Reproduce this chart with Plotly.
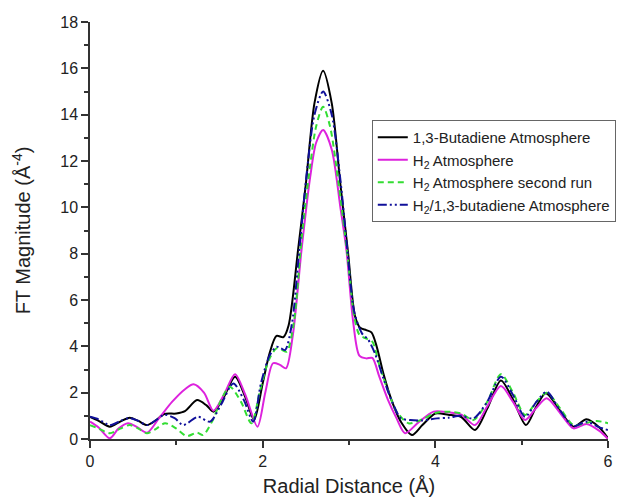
import plotly.graph_objects as go

# ---- data ----
black_x = [0, 0.1, 0.23, 0.35, 0.46, 0.56, 0.66, 0.76, 0.86, 1.0, 1.1, 1.24, 1.35, 1.43, 1.55, 1.68, 1.8, 1.9,
           2.0, 2.08, 2.16, 2.24, 2.3, 2.41, 2.5, 2.6, 2.7, 2.8, 2.9, 2.99, 3.07, 3.13, 3.2, 3.26, 3.32, 3.4,
           3.5, 3.6, 3.73, 3.85, 4.0, 4.15, 4.3, 4.46, 4.6, 4.76, 4.9, 5.05, 5.17, 5.28, 5.45, 5.6, 5.75, 5.9, 6.0]
black_y = [0.95, 0.78, 0.53, 0.75, 0.92, 0.78, 0.6, 0.8, 1.08, 1.1, 1.2, 1.68, 1.45, 1.18, 1.8, 2.69, 1.8, 0.82,
           2.4, 3.7, 4.45, 4.4, 4.9, 8.16, 11.0, 14.5, 15.9, 14.5, 11.0, 8.0, 5.3, 4.8, 4.7, 4.6, 4.0, 2.8,
           1.6, 0.75, 0.17, 0.6, 1.1, 1.05, 0.95, 0.39, 1.3, 2.52, 1.7, 0.6, 1.4, 1.97, 1.2, 0.53, 0.85, 0.5, 0.03]

mag_x = [0, 0.1, 0.23, 0.33, 0.44, 0.55, 0.66, 0.8, 0.95, 1.1, 1.2, 1.32, 1.43, 1.55, 1.68, 1.8, 1.94, 2.03,
         2.12, 2.2, 2.27, 2.35, 2.45, 2.55, 2.62, 2.7, 2.8, 2.9, 2.97, 3.05, 3.12, 3.2, 3.27, 3.35, 3.45, 3.55,
         3.65, 3.8, 3.98, 4.15, 4.3, 4.46, 4.6, 4.76, 4.9, 5.04, 5.16, 5.29, 5.45, 5.6, 5.75, 5.9, 6.0]
mag_y = [0.75, 0.5, 0.03, 0.45, 0.68, 0.5, 0.27, 0.9, 1.6, 2.15, 2.36, 2.0, 1.22, 1.9, 2.8, 1.9, 0.53, 2.0,
         3.27, 3.2, 3.05, 4.5, 8.16, 11.3, 12.8, 13.34, 12.5, 10.0, 8.16, 5.0, 3.6, 3.48, 3.5, 2.7, 1.7, 0.9,
         0.25, 0.7, 1.18, 1.15, 1.05, 0.6, 1.4, 2.29, 1.6, 0.82, 1.3, 1.76, 1.1, 0.46, 0.65, 0.35, 0.0]

grn_x = [0, 0.1, 0.23, 0.35, 0.46, 0.56, 0.66, 0.77, 0.87, 1.0, 1.12, 1.24, 1.31, 1.42, 1.52, 1.62, 1.75, 1.87,
         1.97, 2.07, 2.16, 2.22, 2.28, 2.36, 2.45, 2.55, 2.62, 2.7, 2.78, 2.88, 2.98, 3.06, 3.12, 3.19, 3.27,
         3.35, 3.45, 3.55, 3.69, 3.85, 4.0, 4.13, 4.3, 4.44, 4.6, 4.76, 4.9, 5.04, 5.17, 5.29, 5.45, 5.6, 5.75,
         5.87, 6.0]
grn_y = [0.6, 0.45, 0.25, 0.45, 0.6, 0.45, 0.25, 0.45, 0.68, 0.45, 0.13, 0.27, 0.17, 0.8, 1.7, 2.26, 1.6, 0.68,
         2.1, 3.4, 3.91, 3.85, 3.77, 5.0, 8.6, 11.8, 13.5, 14.34, 13.5, 11.0, 8.0, 5.3, 4.5, 4.35, 4.2,
         3.2, 2.1, 1.2, 0.68, 0.85, 1.12, 1.18, 1.1, 0.82, 1.6, 2.8, 2.0, 1.04, 1.6, 2.0, 1.3, 0.6, 0.7,
         0.78, 0.68]

blu_x = [0, 0.1, 0.23, 0.35, 0.46, 0.56, 0.66, 0.76, 0.86, 0.98, 1.08, 1.25, 1.39, 1.52, 1.66, 1.78, 1.89,
         1.98, 2.08, 2.16, 2.21, 2.26, 2.34, 2.42, 2.52, 2.6, 2.7, 2.8, 2.9, 2.98, 3.06, 3.15, 3.22, 3.3, 3.4,
         3.5, 3.6, 3.71, 3.85, 4.02, 4.15, 4.3, 4.44, 4.6, 4.76, 4.9, 5.04, 5.17, 5.29, 5.45, 5.6, 5.75, 5.9, 6.0]
blu_y = [0.96, 0.85, 0.6, 0.78, 0.9, 0.78, 0.6, 0.8, 1.05, 0.9, 0.6, 0.96, 0.75, 1.5, 2.4, 1.7, 0.75,
         2.4, 3.6, 3.98, 3.92, 3.84, 5.0, 8.0, 11.8, 14.0, 15.0, 14.0, 11.2, 8.2, 5.5, 4.56, 4.3, 3.7, 2.6,
         1.6, 0.9, 0.82, 0.8, 0.89, 0.92, 1.0, 0.89, 1.6, 2.69, 1.9, 0.96, 1.6, 2.04, 1.2, 0.55, 0.75, 0.5, 0.39]

names = ["1,3-Butadiene Atmosphere", "H<sub>2</sub> Atmosphere",
         "H<sub>2</sub> Atmosphere second run", "H<sub>2</sub>/1,3-butadiene Atmosphere"]

x_ticks = [0, 2, 4, 6]
y_ticks = [0, 2, 4, 6, 8, 10, 12, 14, 16, 18]

fig = go.Figure()
styles = [
    dict(color="#000000", width=2, dash="solid"),
    dict(color="#dd22dd", width=2, dash="solid"),
    dict(color="#33dd33", width=2, dash="6px,4px"),
    dict(color="#10109a", width=2, dash="9px,3px,2px,3px,2px,3px"),
]
for (xs, ys), name, st in zip([(black_x, black_y), (mag_x, mag_y), (grn_x, grn_y), (blu_x, blu_y)], names, styles):
    fig.add_trace(go.Scatter(x=xs, y=ys, mode="lines", name=name,
                             line=dict(shape="spline", smoothing=0.8, **st)))

axis_common = dict(showline=True, linecolor="#333333", linewidth=1.5, ticks="outside", ticklen=7,
                   tickwidth=1.5, tickcolor="#333333", showgrid=False, zeroline=False,
                   tickfont=dict(size=16, color="#222222"),
                   minor=dict(ticks="outside", ticklen=4, tickwidth=1.5, tickcolor="#333333", showgrid=False))

fig.update_xaxes(range=[0, 6], tickvals=x_ticks, minor_dtick=1,
                 title=dict(text="Radial Distance (Å)", font=dict(size=20, color="#222222"), standoff=10),
                 **axis_common)
fig.update_yaxes(range=[0, 18], tickvals=y_ticks, minor_dtick=1,
                 title=dict(text="FT Magnitude (Å<sup>-4</sup>)", font=dict(size=20, color="#222222"), standoff=24),
                 **axis_common)

fig.update_layout(
    width=624, height=503,
    margin=dict(l=90, r=16, t=22, b=64, autoexpand=False),
    paper_bgcolor="white", plot_bgcolor="white",
    font=dict(family="Liberation Sans, Arial, sans-serif", color="#222222"),
    legend=dict(x=0.544, y=0.765, xanchor="left", yanchor="top",
                bordercolor="#666666", borderwidth=1, bgcolor="white",
                font=dict(size=15, color="#222222"), itemwidth=30, tracegroupgap=0),
    showlegend=True,
)

fig.write_html("out.html")
